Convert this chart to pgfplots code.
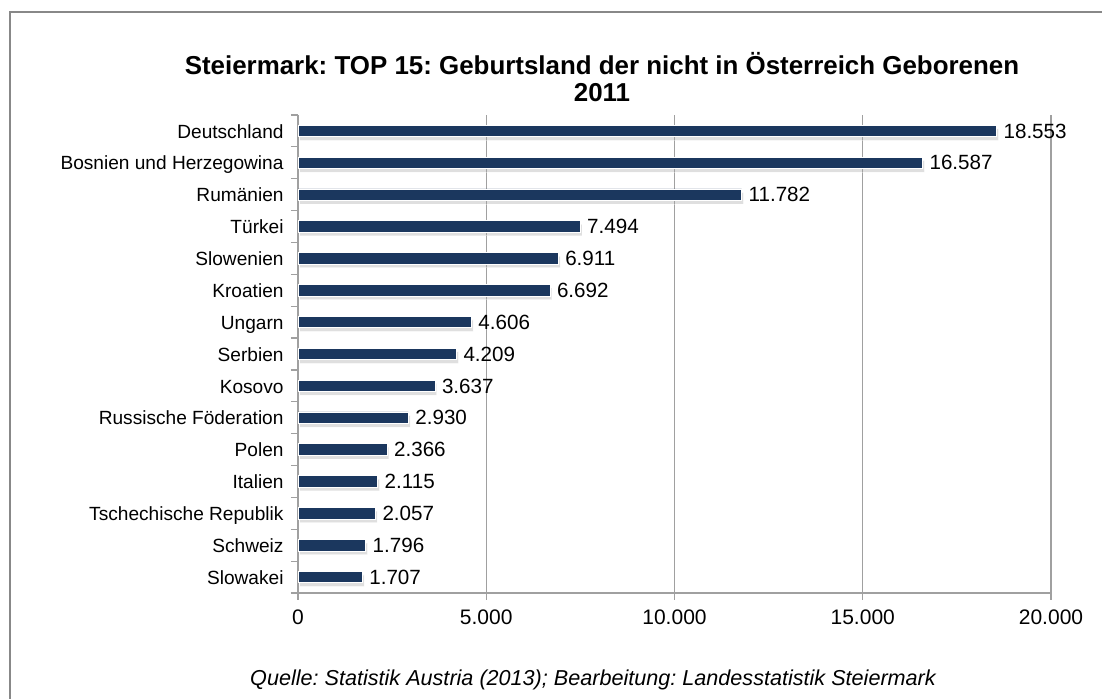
\documentclass[border=0pt]{standalone}
\usepackage{pgfplots}
\pgfplotsset{compat=1.18}
\usepackage{fontspec}
\setmainfont{Liberation Sans}
\frenchspacing
\usetikzlibrary{shadows}
\definecolor{barblue}{RGB}{27,55,94}
\definecolor{gridgray}{RGB}{160,160,160}
\definecolor{framegray}{RGB}{136,136,136}
\begin{document}
\begin{tikzpicture}
\path[use as bounding box] (0,0) rectangle (551pt,349.5pt);
\fill[white] (0,0) rectangle (551pt,349.5pt);
\draw[framegray, line width=1pt] (5pt,0) -- (5pt,343.5pt) -- (551pt,343.5pt);
\begin{axis}[
  at={(149pt,53pt)}, anchor=south west,
  scale only axis,
  width=376.5pt, height=239pt,
  xmin=0, xmax=20000,
  ymin=-0.5, ymax=14.5,
  xtick={0,5000,10000,15000,20000},
  scaled x ticks=false,
  ytick={0,...,14},
  yticklabels={Slowakei,Schweiz,Tschechische Republik,Italien,Polen,Russische Föderation,Kosovo,Serbien,Ungarn,Kroatien,Slowenien,Türkei,Rumänien,Bosnien und Herzegowina,Deutschland},
  y tick label style={font=\fontsize{9.55}{11}\selectfont, xshift=-0.2pt, text height=0.72em, text depth=0pt},
  x tick label style={font=\fontsize{10.5}{12}\selectfont, yshift=-1.2pt},
  major tick length=3.5pt,
  extra y ticks={-0.5,0.5,...,14.5},
  extra y tick labels={},
  extra y tick style={y tick style={draw=gridgray, line width=0.6pt}},
  axis x line*=bottom, axis y line*=left,
  axis line style={gridgray, line width=0.6pt},
  tick align=outside,
  x tick style={gridgray, line width=0.6pt},
  y tick style={draw=none},
  xmajorgrids,
  major grid style={gridgray, line width=0.6pt},
  /pgf/number format/1000 sep={.},
  /pgf/number format/fixed,
  /pgf/number format/precision=0,
  /pgf/number format/assume math mode=true,
  clip=false,
]
\addplot[xbar, bar width=0.36, fill=barblue, draw=white, line width=0.4pt,
  drop shadow={shadow xshift=0.9pt, shadow yshift=-1.8pt, fill=black!35, opacity=0.35},
  nodes near coords,
  every node near coord/.append style={font=\fontsize{10.3}{12}\selectfont, text=black, anchor=west, xshift=0pt, text height=0.72em, text depth=0pt},
] coordinates {
(1707,0) (1796,1) (2057,2) (2115,3) (2366,4) (2930,5) (3637,6) (4209,7) (4606,8) (6692,9) (6911,10) (7494,11) (11782,12) (16587,13) (18553,14)
};
\end{axis}
\node[font=\bfseries\fontsize{12.95}{13.5}\selectfont, align=center] at (301pt,311pt) {Steiermark: TOP 15: Geburtsland der nicht in Österreich Geborenen\\2011};
\node[font=\itshape\fontsize{10.8}{12}\selectfont] at (296.5pt,9.5pt) {Quelle: Statistik Austria (2013); Bearbeitung: Landesstatistik Steiermark};
\end{tikzpicture}
\end{document}
